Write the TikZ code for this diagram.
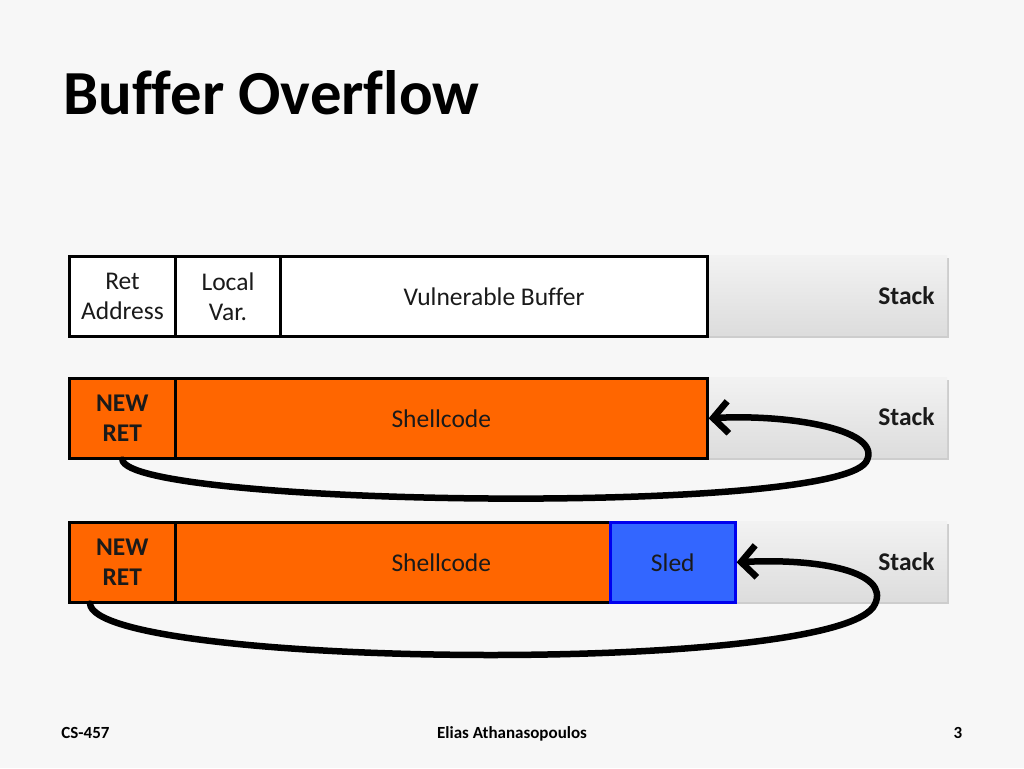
\documentclass[tikz,border=0pt]{standalone}
\usepackage{fontspec}
\setmainfont{Carlito}[Ligatures=NoCommon]
\usetikzlibrary{arrows.meta,shadows,calc}
\definecolor{bg}{HTML}{F7F7F7}
\definecolor{orng}{HTML}{FF6600}
\definecolor{sledblue}{HTML}{3366FF}
\definecolor{sledline}{HTML}{0000EE}
\definecolor{txt}{HTML}{1A1A1A}
\tikzset{
  bar/.style={anchor=north west, minimum height=80pt, minimum width=879pt, inner sep=0pt,
    top color=gray!10, bottom color=gray!27, draw=none,
    drop shadow={shadow xshift=1.5pt, shadow yshift=-2.5pt, opacity=0.35, fill=gray}},
  cell/.style={anchor=north west, minimum height=80pt, inner sep=0pt, draw=black, line width=3pt, align=center,
    font=\fontsize{25.5}{30}\selectfont, text=txt},
  wcell/.style={cell, fill=white},
  ocell/.style={cell, fill=orng, line width=2.6pt},
  bcell/.style={cell, fill=sledblue, draw=sledline, line width=2.6pt},
  stacklbl/.style={anchor=east, font=\fontsize{25.5}{30}\selectfont\bfseries, text=txt},
  loop/.style={line width=6.5pt, line cap=round, -{Straight Barb[length=15pt,width=32pt,line width=6.5pt]}},
  foot/.style={font=\fontsize{17}{19}\selectfont\bfseries, anchor=base}
}
\begin{document}
\begin{tikzpicture}[x=1pt,y=-1pt]
\useasboundingbox (0,0) rectangle (1024,768);
\fill[bg] (0,0) rectangle (1024,768);
\node[anchor=base west, font=\fontsize{62.7}{70}\selectfont\bfseries, inner sep=0pt] (title) at (63,114) {Buffer Overflow};

% row 1
\node[bar] (bar1) at (68,255) {};
\node[stacklbl] (st1) at (938,296) {Stack};
\node[wcell, minimum width=106pt] (ret1) at (68,255) {Ret\\Address};
\node[wcell, minimum width=105pt] (loc1) at (174,255) {Local\\Var.};
\node[wcell, minimum width=427pt] (buf1) at (279,255) {Vulnerable Buffer};

% row 2
\node[bar] (bar2) at (68,377) {};
\node[stacklbl] (st2) at (938,417) {Stack};
\node[ocell, minimum width=106pt, font=\fontsize{25.5}{30}\selectfont\bfseries] (nr2) at (68,377) {NEW\\RET};
\node[ocell, minimum width=532pt] (sc2) at (174,377) {Shellcode};
\draw[loop] (nr2.south) .. controls (128,506) and (830,516) .. (866,462)
  .. controls (885,430) and (790,414) .. (sc2.east);

% row 3
\node[bar] (bar3) at (68,521) {};
\node[stacklbl] (st3) at (938,562) {Stack};
\node[ocell, minimum width=106pt, font=\fontsize{25.5}{30}\selectfont\bfseries] (nr3) at (68,521) {NEW\\RET};
\node[ocell, minimum width=532pt] (sc3) at (174,521) {Shellcode};
\node[bcell, minimum width=125pt] (sled) at (609,521) {Sled};
\coordinate (s3) at ($(nr3.south west)+(22,0)$);
\draw[loop] (s3) .. controls (95,668) and (845,676) .. (875,604)
  .. controls (890,572) and (820,558) .. (sled.east);

% footer
\node[foot] (f1) at (85.5,738) {CS-457};
\node[foot] (f2) at (512,738) {Elias Athanasopoulos};
\node[foot] (f3) at (958,738) {3};
\end{tikzpicture}
\end{document}
